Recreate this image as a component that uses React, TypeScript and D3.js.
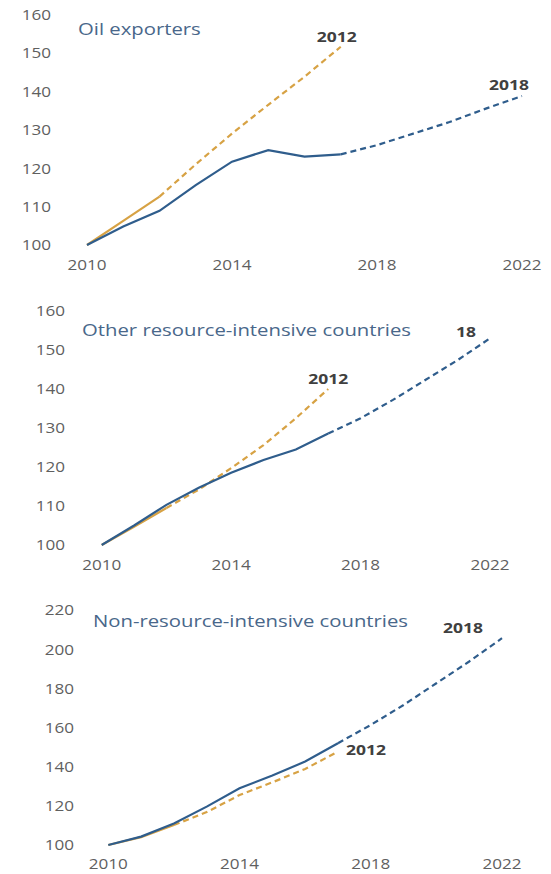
import React from "react";
import * as d3 from "d3";

const years = [2010, 2011, 2012, 2013, 2014, 2015, 2016, 2017, 2018, 2019, 2020, 2021, 2022];
const vintageYears = [2010, 2011, 2012, 2013, 2014, 2015, 2016, 2017];
const xTicks = [2010, 2014, 2018, 2022];

const oilTitle = "Oil exporters";
const oil2018 = [100, 104.8, 108.9, 115.6, 121.7, 124.7, 123.0, 123.6, 126.0, 129.0, 132.0, 135.5, 138.8];
const oil2012 = [100, 106.3, 112.6, 121.0, 129.0, 136.5, 143.8, 151.6];
const oilYTicks = [100, 110, 120, 130, 140, 150, 160];

const otherTitle = "Other resource-intensive countries";
const other2018 = [100, 105.0, 110.3, 114.7, 118.5, 121.8, 124.5, 128.6, 132.5, 137.2, 142.3, 147.4, 153.0];
const other2012 = [100, 104.7, 109.5, 114.2, 119.7, 125.6, 132.5, 140.0];
const otherYTicks = [100, 110, 120, 130, 140, 150, 160];

const nonTitle = "Non-resource-intensive countries";
const non2018 = [100, 104.3, 111.0, 119.6, 129.0, 135.5, 142.6, 152.0, 161.3, 171.5, 182.6, 193.7, 205.6];
const non2012 = [100, 104.0, 110.2, 116.8, 125.5, 132.0, 138.8, 147.7];
const nonYTicks = [100, 120, 140, 160, 180, 200, 220];

const BLUE = "#2f5d8c";
const ORANGE = "#d7a244";
const TICK = "#5f5f5f";
const TITLE = "#49678a";
const LABEL = "#404040";
const FONT = "'Open Sans', 'Noto Sans', sans-serif";

type Panel = {
  title: string;
  blue: number[];
  orange: number[];
  yTicks: number[];
  x0: number; x1: number; y0: number; y1: number;
  yLabelRight: number; xLabelY: number;
  titleX: number; titleY: number;
  blueLabel: string; blueDx: number; blueDy: number;
  orangeLabel: string; orangeDx: number; orangeDy: number;
};

const panels: Panel[] = [
  {
    title: oilTitle, blue: oil2018, orange: oil2012, yTicks: oilYTicks,
    x0: 87, x1: 522, y0: 245, y1: 14.5, yLabelRight: 51, xLabelY: 265,
    titleX: 78, titleY: 28.5,
    blueLabel: "2018", blueDx: -13, blueDy: -11,
    orangeLabel: "2012", orangeDx: -4, orangeDy: -10,
  },
  {
    title: otherTitle, blue: other2018, orange: other2012, yTicks: otherYTicks,
    x0: 101.7, x1: 490, y0: 545, y1: 311, yLabelRight: 65, xLabelY: 565,
    titleX: 82, titleY: 329,
    blueLabel: "18", blueDx: -24, blueDy: -7,
    orangeLabel: "2012", orangeDx: 0, orangeDy: -10,
  },
  {
    title: nonTitle, blue: non2018, orange: non2012, yTicks: nonYTicks,
    x0: 108.3, x1: 502, y0: 845, y1: 610, yLabelRight: 74, xLabelY: 864,
    titleX: 93, titleY: 620.7,
    blueLabel: "2018", blueDx: -39, blueDy: -11,
    orangeLabel: "2012", orangeDx: 28, orangeDy: -2,
  },
];

function SText(props: {
  x: number; y: number; sx: number; anchor?: string; size: number; fill: string;
  weight?: string; children: React.ReactNode;
}) {
  return (
    <text
      transform={`translate(${props.x},${props.y}) scale(${props.sx},1)`}
      textAnchor={props.anchor || "start"}
      dominantBaseline="central"
      fontSize={props.size}
      fontWeight={props.weight || "normal"}
      fill={props.fill}
      fontFamily={FONT}
    >
      {props.children}
    </text>
  );
}

function PanelView({ p }: { p: Panel }) {
  const x = d3.scaleLinear().domain([2010, 2022]).range([p.x0, p.x1]);
  const y = d3.scaleLinear().domain([p.yTicks[0], p.yTicks[p.yTicks.length - 1]]).range([p.y0, p.y1]);
  const line = d3.line<[number, number]>().x((d) => x(d[0])).y((d) => y(d[1]));

  const bluePts: [number, number][] = years.map((yr, i) => [yr, p.blue[i]]);
  const orangePts: [number, number][] = vintageYears.map((yr, i) => [yr, p.orange[i]]);
  const blueSolid = bluePts.filter((d) => d[0] <= 2017);
  const blueDash = bluePts.filter((d) => d[0] >= 2017);
  const orangeSolid = orangePts.filter((d) => d[0] <= 2012);
  const orangeDash = orangePts.filter((d) => d[0] >= 2012);

  const bEnd = bluePts[bluePts.length - 1];
  const oEnd = orangePts[orangePts.length - 1];

  return (
    <g>
      {p.yTicks.map((t) => (
        <SText key={"y" + t} x={p.yLabelRight} y={y(t)} sx={1.18} anchor="end" size={14.5} fill={TICK}>{t}</SText>
      ))}
      {xTicks.map((t) => (
        <SText key={"x" + t} x={x(t)} y={p.xLabelY} sx={1.18} anchor="middle" size={14.5} fill={TICK}>{t}</SText>
      ))}
      <SText x={p.titleX} y={p.titleY} sx={1.23} size={16.5} fill={TITLE}>{p.title}</SText>
      <path d={line(orangeSolid) || ""} fill="none" stroke={ORANGE} strokeWidth={2.2} />
      <path d={line(orangeDash) || ""} fill="none" stroke={ORANGE} strokeWidth={2.2} strokeDasharray="6,4" />
      <path d={line(blueSolid) || ""} fill="none" stroke={BLUE} strokeWidth={2.2} />
      <path d={line(blueDash) || ""} fill="none" stroke={BLUE} strokeWidth={2.2} strokeDasharray="6,4" />
      <SText x={x(oEnd[0]) + p.orangeDx} y={y(oEnd[1]) + p.orangeDy} sx={1.25} anchor="middle" size={14} weight="bold" fill={LABEL}>{p.orangeLabel}</SText>
      <SText x={x(bEnd[0]) + p.blueDx} y={y(bEnd[1]) + p.blueDy} sx={1.25} anchor="middle" size={14} weight="bold" fill={LABEL}>{p.blueLabel}</SText>
    </g>
  );
}

export default function App() {
  return (
    <svg width={551} height={874} style={{ position: "absolute", left: 0, top: 0, background: "#fff" }}>
      <rect width={551} height={874} fill="#fff" />
      {panels.map((p, i) => <PanelView key={i} p={p} />)}
    </svg>
  );
}
